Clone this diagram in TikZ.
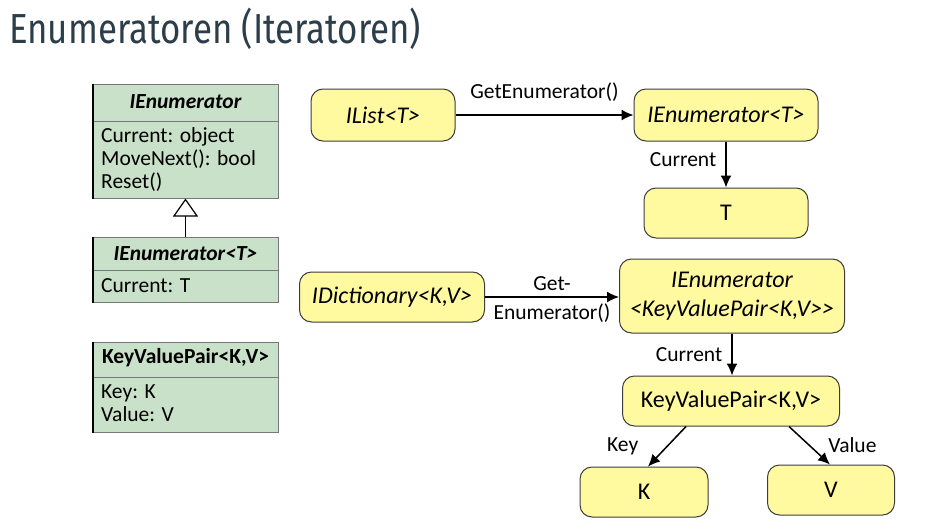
\documentclass[tikz,border=0pt]{standalone}
\usepackage{fontspec}
\setmainfont{Carlito}
\newfontfamily\titlefont{Fira Sans}
\usetikzlibrary{arrows.meta,positioning}
\definecolor{yel}{RGB}{255,250,160}
\definecolor{grn}{RGB}{201,224,201}
\definecolor{ttl}{RGB}{44,62,74}
\definecolor{bdr}{RGB}{60,60,60}
\definecolor{gbdr}{RGB}{120,120,120}
\begin{document}
\begin{tikzpicture}[x=1pt,y=-1pt,
  ynode/.style={draw=bdr, line width=1pt, fill=yel, rounded corners=12pt,
    font=\fontsize{24}{29}\selectfont, align=center, inner sep=0pt},
  arr/.style={-{Latex[length=12pt,width=11pt]}, line width=1.5pt},
  lbl/.style={font=\fontsize{21.5}{24}\selectfont, inner sep=1pt},
  uml/.style={draw=gbdr, line width=1pt, fill=grn, inner sep=0pt, minimum width=185pt},
  umlline/.style={draw=gbdr, line width=1pt},
  umledge/.style={line width=2pt},
  umlhead/.style={font=\fontsize{21.5}{24}\selectfont\bfseries, inner sep=0pt},
  umltext/.style={font=\fontsize{21.5}{23}\selectfont, align=left, anchor=north west, inner sep=0pt},
  inherit/.style={line width=1.2pt, -{Triangle[open,length=18pt,width=25pt,line width=1.2pt]}}
]
\useasboundingbox (0,0) rectangle (947,530);

% title
\node[anchor=west, text=ttl, inner sep=0pt] (title) at (9,29)
  {\scalebox{0.83}[1]{\titlefont\fontsize{42}{42}\selectfont Enumeratoren (Iteratoren)}};

% UML boxes
\node[uml, minimum height=114pt] (e1) at (185.5,141) {};
\draw[umlline] (e1.west |- 0,121) -- (e1.east |- 0,121);
\draw[umledge] (e1.north west) -- (e1.south west);
\node[umlhead] (e1h) at (185.5,102) {\itshape IEnumerator};
\node[umltext] (e1b) at (101,127) {Current: object\\MoveNext(): bool\\Reset()};

\node[uml, minimum height=65pt] (e2) at (185.5,269.5) {};
\draw[umlline] (e2.west |- 0,270) -- (e2.east |- 0,270);
\draw[umledge] (e2.north west) -- (e2.south west);
\node[umlhead] (e2h) at (185.5,254) {\itshape IEnumerator<T>};
\node[umltext] (e2b) at (101,278) {Current: T};

\draw[inherit] (e2.north) -- (e1.south);

\node[uml, minimum height=90pt] (kv) at (185.5,387) {};
\draw[umlline] (kv.west |- 0,377) -- (kv.east |- 0,377);
\draw[umledge] (kv.north west) -- (kv.south west);
\node[umlhead] (kvh) at (185.5,358) {KeyValuePair<K,V>};
\node[umltext] (kvb) at (101,384) {Key: K\\Value: V};

% yellow nodes
\node[ynode, minimum width=144pt, minimum height=52pt] (ilist) at (383,115) {\itshape IList<T>};
\node[ynode, minimum width=184pt, minimum height=52pt] (ienumt) at (726,115) {\itshape IEnumerator<T>};
\node[ynode, minimum width=164pt, minimum height=50pt] (t) at (726,213) {T};
\node[ynode, minimum width=185pt, minimum height=50pt] (idict) at (392,297) {\itshape IDictionary<K,V>};
\node[ynode, minimum width=225pt, minimum height=74pt] (ienumkv) at (732,296) {\itshape IEnumerator\\\itshape <KeyValuePair<K,V>\kern0pt>};
\node[ynode, minimum width=217pt, minimum height=50pt] (kvp) at (731,401) {KeyValuePair<K,V>};
\node[ynode, minimum width=128pt, minimum height=50pt] (k) at (644,492) {K};
\node[ynode, minimum width=127pt, minimum height=50pt] (v) at (831,490) {V};

% connectors
\draw[arr] (ilist.east) -- (ienumt.west)
  node[lbl, midway, above=12pt] (l1) {GetEnumerator()};
\draw[arr] (ienumt.south) -- (t.north)
  node[lbl, pos=0.4, left=8pt] (l2) {Current};
\draw[arr] (idict.east) -- (ienumkv.west |- idict.east)
  node[lbl, midway, above=5pt] (l3) {Get-}
  node[lbl, midway, below=5pt] (l4) {Enumerator()};
\draw[arr] (ienumkv.south) -- (ienumkv.south |- kvp.north)
  node[lbl, midway, left=8pt] (l5) {Current};
\draw[arr] ([xshift=-45pt]kvp.south) -- ([xshift=4pt]k.north)
  node[lbl, midway, left=27pt] (l6) {Key};
\draw[arr] ([xshift=58pt]kvp.south) -- ([xshift=-1pt]v.north)
  node[lbl, midway, right=17pt] (l7) {Value};
\end{tikzpicture}
\end{document}
